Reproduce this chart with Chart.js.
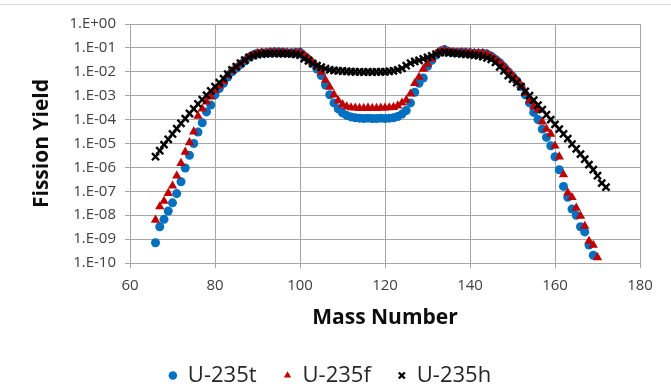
<!DOCTYPE html>
<html>
<head>
<meta charset="utf-8">
<script src="https://cdn.jsdelivr.net/npm/chart.js@4/dist/chart.umd.min.js"></script>
<style>
  html, body { margin: 0; padding: 0; background: #fff; }
  #wrap { position: relative; width: 671px; height: 390px; overflow: hidden; }
  #wrap .topline { position: absolute; left: 0; right: 0; top: 4px; border-top: 1px solid #d9d9d9; }
  canvas { position: absolute; left: 0; top: 0; }
</style>
</head>
<body>
<div id="wrap"><div class="topline"></div><canvas id="chart" width="671" height="390"></canvas></div>
<script>
// mass numbers 66..172
const massNumbers = [
  66, 67, 68, 69, 70, 71, 72, 73, 74, 75, 76, 77, 78, 79, 80, 81, 82, 83, 84, 85,
  86, 87, 88, 89, 90, 91, 92, 93, 94, 95, 96, 97, 98, 99, 100, 101, 102, 103, 104, 105,
  106, 107, 108, 109, 110, 111, 112, 113, 114, 115, 116, 117, 118, 119, 120, 121, 122, 123, 124, 125,
  126, 127, 128, 129, 130, 131, 132, 133, 134, 135, 136, 137, 138, 139, 140, 141, 142, 143, 144, 145,
  146, 147, 148, 149, 150, 151, 152, 153, 154, 155, 156, 157, 158, 159, 160, 161, 162, 163, 164, 165,
  166, 167, 168, 169, 170, 171, 172
];

// U-235t, mass 66..169
const yieldThermal = [
  7e-10, 3.3e-9, 6.7e-9, 1.5e-8, 3.3e-8, 8e-8, 2.5e-7, 9.4e-7, 3.2e-6, 1.0e-5,
  3.0e-5, 7.4e-5, 2.1e-4, 4.1e-4, 1.1e-3, 2.0e-3, 3.3e-3, 6.0e-3, 1.0e-2, 1.4e-2,
  2.0e-2, 2.8e-2, 4.0e-2, 5.0e-2, 6.0e-2, 6.2e-2, 6.3e-2, 6.6e-2, 6.8e-2, 6.8e-2,
  6.5e-2, 6.3e-2, 6.2e-2, 6.4e-2, 6.6e-2, 4.6e-2, 3.3e-2, 2.2e-2, 1.3e-2, 7e-3,
  2.8e-3, 1.1e-3, 5.0e-4, 2.8e-4, 1.9e-4, 1.5e-4, 1.3e-4, 1.2e-4, 1.15e-4, 1.1e-4,
  1.15e-4, 1.1e-4, 1.1e-4, 1.15e-4, 1.1e-4, 1.15e-4, 1.2e-4, 1.35e-4, 1.7e-4, 2.4e-4,
  5.0e-4, 1.4e-3, 3.3e-3, 5.5e-3, 1.7e-2, 3.0e-2, 5.0e-2, 7.0e-2, 8.5e-2, 7.0e-2,
  6.6e-2, 6.4e-2, 6.6e-2, 6.4e-2, 6.3e-2, 6.0e-2, 6.0e-2, 6.0e-2, 5.6e-2, 4.5e-2,
  3.3e-2, 2.4e-2, 1.6e-2, 1.0e-2, 6.5e-3, 4.2e-3, 2.4e-3, 1.1e-3, 5.0e-4, 2.0e-4,
  1.0e-4, 4.0e-5, 1.8e-5, 8.0e-6, 2.8e-6, 8.0e-7, 1.6e-7, 5.6e-8, 1.8e-8, 1.0e-8,
  3.3e-9, 2.0e-9, 5.6e-10, 2.1e-10
];

// U-235f, mass 66..170
const yieldFast = [
  6.3e-9, 2.3e-8, 3.9e-8, 8.3e-8, 1.7e-7, 4.4e-7, 1.5e-6, 4.4e-6, 1.1e-5, 3.1e-5,
  1.4e-4, 2.8e-4, 5.6e-4, 9.0e-4, 1.7e-3, 2.6e-3, 4.0e-3, 7.0e-3, 1.1e-2, 1.5e-2,
  2.1e-2, 2.9e-2, 4.1e-2, 5.1e-2, 6.0e-2, 6.3e-2, 6.4e-2, 6.6e-2, 6.7e-2, 6.7e-2,
  6.5e-2, 6.3e-2, 6.2e-2, 6.3e-2, 6.5e-2, 5.0e-2, 3.6e-2, 2.5e-2, 1.6e-2, 9.5e-3,
  4.5e-3, 2.3e-3, 1.1e-3, 6.2e-4, 4.3e-4, 3.5e-4, 3.2e-4, 3.1e-4, 3.0e-4, 3.0e-4,
  3.1e-4, 3.0e-4, 3.0e-4, 3.1e-4, 3.1e-4, 3.2e-4, 3.3e-4, 3.8e-4, 5.0e-4, 6.5e-4,
  1.2e-3, 3.3e-3, 6.0e-3, 1.3e-2, 2.1e-2, 3.5e-2, 5.5e-2, 7.4e-2, 8.0e-2, 7.0e-2,
  6.6e-2, 6.4e-2, 6.5e-2, 6.4e-2, 6.3e-2, 6.1e-2, 6.0e-2, 6.0e-2, 5.5e-2, 4.4e-2,
  3.3e-2, 2.5e-2, 1.7e-2, 1.1e-2, 7.0e-3, 4.5e-3, 2.7e-3, 1.3e-3, 6.3e-4, 3.5e-4,
  2.5e-4, 8.0e-5, 4.0e-5, 2.5e-5, 8.0e-6, 2.8e-6, 5.0e-7, 8.7e-8, 5.6e-8, 2.0e-8,
  9.3e-9, 3.5e-9, 8.3e-10, 5.6e-10, 1.7e-10
];

// U-235h, mass 66..172
const yieldHigh = [
  2.8e-6, 5.0e-6, 9.0e-6, 1.5e-5, 2.5e-5, 4.2e-5, 7.0e-5, 1.1e-4, 1.8e-4, 2.8e-4,
  4.5e-4, 6.8e-4, 1.05e-3, 1.6e-3, 2.4e-3, 3.5e-3, 5.2e-3, 8.0e-3, 1.2e-2, 1.65e-2,
  2.3e-2, 3.1e-2, 4.0e-2, 4.7e-2, 5.2e-2, 5.5e-2, 5.7e-2, 5.8e-2, 5.8e-2, 5.8e-2,
  5.8e-2, 5.7e-2, 5.6e-2, 5.3e-2, 5.0e-2, 3.6e-2, 2.9e-2, 2.2e-2, 1.8e-2, 1.55e-2,
  1.35e-2, 1.2e-2, 1.15e-2, 1.1e-2, 1.08e-2, 1.05e-2, 1.02e-2, 1.0e-2, 1.0e-2, 9.8e-3,
  1.0e-2, 9.8e-3, 1.0e-2, 1.0e-2, 1.0e-2, 1.05e-2, 1.1e-2, 1.2e-2, 1.4e-2, 1.8e-2,
  2.3e-2, 2.7e-2, 3.0e-2, 3.5e-2, 4.0e-2, 4.6e-2, 5.5e-2, 6.3e-2, 6.5e-2, 6.2e-2,
  6.0e-2, 5.8e-2, 5.6e-2, 5.4e-2, 5.2e-2, 5.0e-2, 4.7e-2, 4.3e-2, 3.8e-2, 3.3e-2,
  2.5e-2, 1.6e-2, 1.1e-2, 7.0e-3, 5.0e-3, 3.5e-3, 2.4e-3, 1.5e-3, 1.0e-3, 6.5e-4,
  4.0e-4, 2.6e-4, 1.6e-4, 1.0e-4, 6.3e-5, 4.0e-5, 2.5e-5, 1.6e-5, 9.5e-6, 6.0e-6,
  3.6e-6, 2.2e-6, 1.3e-6, 8.0e-7, 4.5e-7, 2.2e-7, 1.5e-7
];

const yTickValues = [1e-10, 1e-9, 1e-8, 1e-7, 1e-6, 1e-5, 1e-4, 1e-3, 1e-2, 1e-1, 1];
const yTickLabels = ['1.E-10', '1.E-09', '1.E-08', '1.E-07', '1.E-06', '1.E-05',
  '1.E-04', '1.E-03', '1.E-02', '1.E-01', '1.E+00'];

function points(values) {
  return values.map((v, i) => ({ x: massNumbers[i], y: v }));
}

const gridColor = '#a6a6a6';
Chart.defaults.font.family = "'Open Sans', sans-serif";

new Chart(document.getElementById('chart'), {
  type: 'scatter',
  data: {
    datasets: [
      {
        label: 'U-235t',
        data: points(yieldThermal),
        pointStyle: 'circle',
        pointRadius: 4.5,
        backgroundColor: '#0070c0',
        borderColor: '#0070c0',
        borderWidth: 0,
        order: 3
      },
      {
        label: 'U-235f',
        data: points(yieldFast),
        pointStyle: 'triangle',
        pointRadius: 5.4,
        backgroundColor: '#c00000',
        borderColor: '#c00000',
        borderWidth: 0,
        order: 2
      },
      {
        label: 'U-235h',
        data: points(yieldHigh),
        pointStyle: 'crossRot',
        pointRadius: 5,
        backgroundColor: '#000',
        borderColor: '#000',
        borderWidth: 2.4,
        order: 1
      }
    ]
  },
  options: {
    responsive: false,
    animation: false,
    devicePixelRatio: 1,
    layout: { padding: { left: 20, right: 31, top: 24, bottom: -6.5 } },
    plugins: {
      tooltip: { enabled: false },
      legend: {
        position: 'bottom',
        labels: {
          usePointStyle: true,
          boxWidth: 8,
          boxHeight: 6,
          padding: 27,
          color: '#262626',
          font: { size: 22 },
          sort: (a, b) => a.datasetIndex - b.datasetIndex
        }
      }
    },
    scales: {
      x: {
        type: 'linear',
        min: 60,
        max: 180,
        afterFit: (scale) => { scale.height = 74.5; },
        ticks: { stepSize: 20, padding: 9, color: '#404040', font: { size: 15 } },
        grid: { color: gridColor, tickLength: 5 },
        border: { color: gridColor },
        title: {
          display: true,
          text: 'Mass Number',
          color: '#0d0d0d',
          font: { size: 21, weight: 'bold' },
          padding: { top: 0, bottom: 7 }
        }
      },
      y: {
        type: 'logarithmic',
        min: 1e-10,
        max: 1,
        afterFit: (scale) => { scale.width = 110; },
        afterBuildTicks: (scale) => { scale.ticks = yTickValues.map(v => ({ value: v })); },
        ticks: {
          padding: 9,
          color: '#404040',
          font: { size: 15 },
          callback: (value, index) => yTickLabels[index]
        },
        grid: { color: gridColor, tickLength: 5 },
        border: { color: gridColor },
        title: {
          display: true,
          text: 'Fission Yield',
          color: '#0d0d0d',
          font: { size: 21, weight: 'bold' },
          padding: { top: 9, bottom: 0 }
        }
      }
    }
  }
});
</script>
</body>
</html>
